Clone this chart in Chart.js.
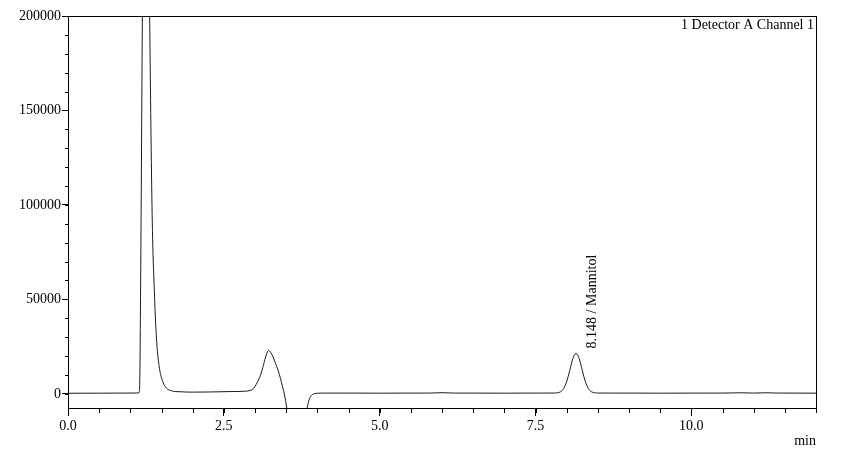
<!DOCTYPE html>
<html>
<head>
<meta charset="utf-8">
<script src="https://cdn.jsdelivr.net/npm/chart.js@4.4.1/dist/chart.umd.min.js"></script>
<style>
  html, body { margin: 0; padding: 0; background: #fff; }
  #wrap { width: 858px; height: 456px; }
</style>
</head>
<body>
<div id="wrap"><canvas id="myChart"></canvas></div>
<script>
// retention time (min) and detector signal
const times = [0.0, 0.5, 1.0, 1.12, 1.14, 1.15, 1.17, 1.19, 1.22, 1.25, 1.28, 1.31, 1.35, 1.39, 1.42, 1.46, 1.52, 1.58, 1.66, 1.8,
  2.0, 2.3, 2.6, 2.85, 2.92, 2.98, 3.05, 3.10, 3.15, 3.19, 3.22, 3.25, 3.29, 3.33, 3.37, 3.41, 3.44, 3.47, 3.51, 3.55,
  3.62, 3.70, 3.78, 3.83, 3.86, 3.89, 3.93, 3.99, 4.2, 5.0, 5.8, 6.0, 6.2, 7.0, 7.6, 7.8, 7.85, 7.9, 7.95, 8.0,
  8.05, 8.1, 8.15, 8.2, 8.25, 8.3, 8.35, 8.4, 8.45, 8.5, 8.7, 9.5, 10.5, 10.8, 11.0, 11.2, 11.4, 12.0];
const signal = [300, 350, 400, 450, 600, 5000, 80000, 185000, 330000, 380000, 300000, 200000, 95000, 50000, 29000, 15000, 6500, 3000, 1600, 1100,
  900, 1000, 1200, 1400, 1800, 3000, 7000, 11000, 17000, 21500, 23000, 22000, 19500, 16000, 12500, 8000, 4000, 0, -7500, -18000,
  -28000, -30000, -20000, -9000, -4000, -1500, -200, 300, 400, 350, 400, 600, 400, 350, 400, 420, 540, 1060, 2700, 6400,
  12500, 18700, 21400, 18700, 12500, 6400, 2700, 1060, 540, 420, 400, 350, 400, 550, 400, 550, 400, 350];

const xTicks = [0, 2.5, 5, 7.5, 10];
const yTicks = [0, 50000, 100000, 150000, 200000];
const peakTime = 8.148;
const peakHeight = 21400;
const peakLabel = '8.148 / Mannitol';
const channelName = '1 Detector A Channel 1';
const xUnit = 'min';

const font = 'Liberation Serif';
const ink = '#000';

const points = times.map((t, i) => ({ x: t, y: signal[i] }));

// frame, minor ticks and the texts
const extras = {
  id: 'extras',
  afterDraw(chart) {
    const c = chart.ctx;
    const a = chart.chartArea;
    const xs = chart.scales.x;
    const ys = chart.scales.y;
    c.save();
    c.strokeStyle = ink;
    c.lineWidth = 1;
    c.strokeRect(Math.round(a.left) + 0.5, Math.round(a.top) + 0.5, Math.round(a.right - a.left), Math.round(a.bottom - a.top));

    c.beginPath();
    for (let v = 0; v <= 12; v += 0.5) {
      const px = Math.round(xs.getPixelForValue(v)) + 0.5;
      c.moveTo(px, a.bottom);
      c.lineTo(px, a.bottom + 5);
    }
    for (let v = 0; v <= 200000; v += 10000) {
      const py = Math.round(ys.getPixelForValue(v)) + 0.5;
      c.moveTo(a.left, py);
      c.lineTo(a.left - 3, py);
    }
    c.stroke();

    c.fillStyle = ink;
    c.font = '14px "' + font + '"';
    c.textAlign = 'right';
    c.textBaseline = 'middle';
    c.fillText(channelName, a.right - 2, a.top + 9);
    c.fillText(xUnit, a.right, a.bottom + 33);

    // rotated peak label
    c.translate(xs.getPixelForValue(peakTime) + 16, ys.getPixelForValue(peakHeight) - 5);
    c.rotate(-Math.PI / 2);
    c.textAlign = 'left';
    c.fillText(peakLabel, 0, 0);
    c.restore();
  }
};

const ctx = document.getElementById('myChart');
new Chart(ctx, {
  type: 'line',
  data: {
    datasets: [{
      data: points,
      borderColor: '#1a1a1a',
      borderWidth: 1,
      pointRadius: 0,
      cubicInterpolationMode: 'monotone'
    }]
  },
  options: {
    responsive: true,
    maintainAspectRatio: false,
    animation: false,
    layout: { padding: { top: 16, right: 42, left: 0, bottom: 0 } },
    plugins: { legend: { display: false }, tooltip: { enabled: false } },
    scales: {
      x: {
        type: 'linear',
        min: 0,
        max: 12,
        afterFit(scale) { scale.height = 48; },
        afterBuildTicks(scale) { scale.ticks = xTicks.map(v => ({ value: v })); },
        ticks: {
          color: ink,
          font: { family: font, size: 14 },
          padding: 2,
          maxRotation: 0,
          callback: v => v.toFixed(1)
        },
        grid: { drawOnChartArea: false, color: ink, tickLength: 8 },
        border: { color: ink }
      },
      y: {
        min: -7500,
        max: 200000,
        afterFit(scale) { scale.width = 68; },
        afterBuildTicks(scale) { scale.ticks = yTicks.map(v => ({ value: v })); },
        ticks: {
          color: ink,
          font: { family: font, size: 14 },
          padding: 1,
          callback: v => String(v)
        },
        grid: { drawOnChartArea: false, color: ink, tickLength: 6 },
        border: { color: ink }
      }
    }
  },
  plugins: [extras]
});
</script>
</body>
</html>
